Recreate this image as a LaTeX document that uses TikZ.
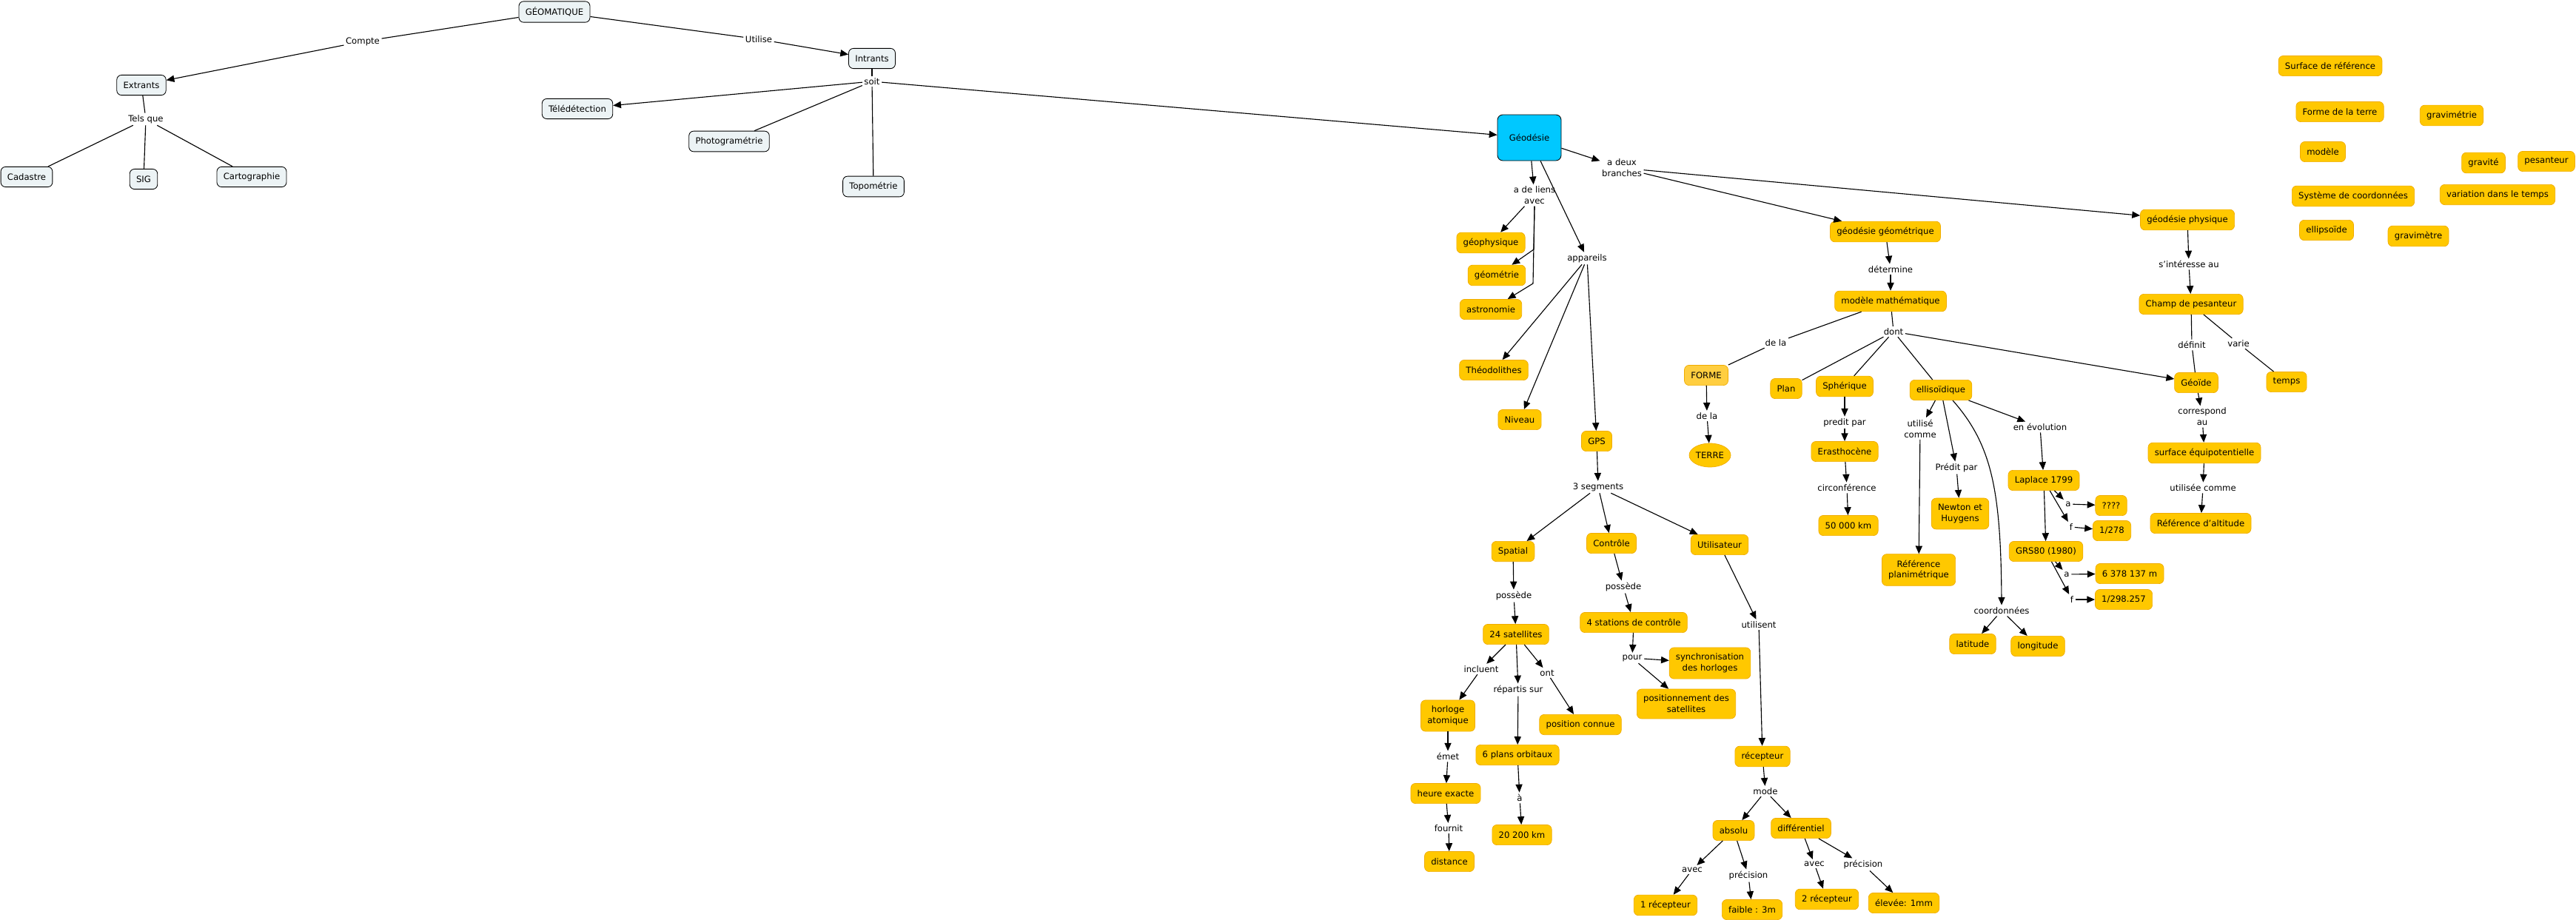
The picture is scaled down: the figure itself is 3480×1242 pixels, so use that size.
\documentclass[tikz,border=0pt]{standalone}
\usepackage{fontspec}
\setsansfont{DejaVu Sans}
\usetikzlibrary{arrows.meta,shapes.geometric}

\definecolor{conceptfill}{RGB}{255,200,0}
\definecolor{conceptline}{RGB}{240,172,0}
\definecolor{formefill}{RGB}{255,206,64}
\definecolor{sourcefill}{RGB}{236,243,245}
\definecolor{geodfill}{RGB}{0,200,255}

\begin{document}
\begin{tikzpicture}[
  x=0.25mm, y=-0.25mm,
  font=\sffamily\fontsize{8.3}{10.6}\selectfont,
  concept/.style={draw=conceptline, fill=conceptfill, rounded corners=1.6mm, line width=0.5pt,
    inner xsep=2.2mm, inner ysep=2mm, minimum height=6.8mm, align=center},
  source/.style={draw=black, fill=sourcefill, rounded corners=1.6mm, line width=0.6pt,
    inner xsep=2.2mm, inner ysep=2mm, minimum height=6.8mm},
  linkword/.style={inner sep=0.6mm, align=center},
  link/.style={line width=0.8pt, -{Triangle[length=2.7mm,width=2.3mm]}},
  plain/.style={line width=0.8pt}
]
  \useasboundingbox (0,0) rectangle (3480,1242);

  % Top of the map: geomatique, outputs and inputs
  \node[source] (geomatique) at (749,16)  {GÉOMATIQUE};
  \node[linkword] (compte)   at (490,56)  {Compte};
  \node[source] (extrants)   at (191,115) {Extrants};
  \node[linkword] (telsque)  at (197,161) {Tels que};
  \node[source] (cadastre)   at (36,239)  {Cadastre};
  \node[source] (sig)        at (194,242) {SIG};
  \node[source] (carto)      at (340,239) {Cartographie};
  \node[linkword] (utilise)  at (1025,53) {Utilise};
  \node[source] (intrants)   at (1178,79) {Intrants};
  \node[linkword] (soit)     at (1178,110) {soit};
  \node[source] (teledet)    at (780,147) {Télédétection};
  \node[source] (photogram)  at (985,191) {Photogramétrie};
  \node[source] (topom)      at (1180,252) {Topométrie};

  \draw[plain] (geomatique) -- (compte);
  \draw[link]  (compte) -- (extrants);
  \draw[plain] (extrants) -- (telsque);
  \draw[plain] (telsque) -- (cadastre);
  \draw[plain] (telsque) -- (sig);
  \draw[plain] (telsque) -- (carto);
  \draw[plain] (geomatique) -- (utilise);
  \draw[link]  (utilise) -- (intrants);
  \draw[plain] (intrants) -- (soit);
  \draw[link]  (soit) -- (teledet);
  \draw[plain] (soit) -- (photogram);
  \draw[plain] (soit) -- (topom);

  % Geodesie, the central concept
  \node[draw=black, fill=geodfill, rounded corners=1.8mm, line width=0.6pt,
        minimum width=21.5mm, minimum height=15.5mm] (geodesie) at (2066,186) {Géodésie};
  \draw[link] (soit) -- (geodesie);

  \node[linkword] (liens)     at (2073,264) {a de liens\\avec};
  \node[linkword] (deuxbr)    at (2191,227) {a deux\\branches};
  \node[linkword] (appareils) at (2144,349) {appareils};
  \node[concept] (geophys)    at (2014,328) {géophysique};
  \node[concept] (geometrie)  at (2022,372) {géométrie};
  \node[concept] (astro)      at (2014,418) {astronomie};
  \node[concept] (theodo)     at (2018,500) {Théodolithes};
  \node[concept] (niveau)     at (2053,567) {Niveau};
  \node[concept] (gps)        at (2157,596) {GPS};
  \coordinate (trunkA) at (2072,337);
  \coordinate (trunkB) at (2071,383);

  \draw[link] (geodesie) -- (liens);
  \draw[link] (liens) -- (geophys);
  \draw[link] (liens.south) -- (trunkA) -- (geometrie);
  \draw[link] (liens.south) -- (trunkB) -- (astro);
  \draw[link] (geodesie) -- (appareils);
  \draw[link] (appareils) -- (theodo);
  \draw[link] (appareils) -- (niveau);
  \draw[link] (appareils) -- (gps);
  \draw[link] (geodesie) -- (deuxbr);

  % Geometric geodesy
  \node[concept] (geogeom)   at (2547,313) {géodésie géométrique};
  \node[linkword] (determine) at (2554,364) {détermine};
  \node[concept] (modmath)   at (2554,407) {modèle mathématique};
  \node[linkword] (dont)     at (2558,448) {dont};
  \node[linkword] (delaA)    at (2399,463) {de la};
  \node[concept, fill=formefill] (forme) at (2305,507) {FORME};
  \node[linkword] (delaB)    at (2306,562) {de la};
  \node[concept, ellipse, inner sep=0pt, minimum width=14mm, minimum height=8mm] (terre) at (2310,615) {TERRE};
  \node[concept] (plan)      at (2413,525) {Plan};
  \node[concept] (spherique) at (2492,522) {Sphérique};
  \node[linkword] (preditA)  at (2492,571) {predit par};
  \node[concept] (erast)     at (2492,610) {Erasthocène};
  \node[linkword] (circonf)  at (2495,659) {circonférence};
  \node[concept] (km50)      at (2497,710) {50 000 km};
  \node[concept] (ellipso)   at (2622,527) {ellisoïdique};
  \node[linkword] (utilcomme) at (2594,579) {utilisé\\comme};
  \node[concept] (refplan)   at (2592,770) {Référence\\planimétrique};
  \node[linkword] (preditB)  at (2643,632) {Prédit par};
  \node[concept] (newton)    at (2648,694) {Newton et\\Huygens};
  \node[linkword] (evolution) at (2756,577) {en évolution};
  \node[concept] (laplace)   at (2761,649) {Laplace 1799};
  \node[linkword] (laplaceA) at (2794,681) {a};
  \node[linkword] (laplaceF) at (2798,712) {f};
  \node[concept] (qqq)       at (2852,683) {????};
  \node[concept] (r278)      at (2853,717) {1/278};
  \node[concept] (grs)       at (2764,745) {GRS80 (1980)};
  \node[linkword] (grsA)     at (2792,776) {a};
  \node[linkword] (grsF)     at (2799,810) {f};
  \node[concept] (demiaxe)   at (2877,775) {6 378 137 m};
  \node[concept] (r298)      at (2869,810) {1/298.257};
  \node[linkword] (coord)    at (2704,825) {coordonnées};
  \node[concept] (lat)       at (2665,870) {latitude};
  \node[concept] (lon)       at (2753,873) {longitude};

  \draw[link]  (deuxbr) -- (geogeom);
  \draw[link]  (geogeom) -- (determine);
  \draw[link]  (determine) -- (modmath);
  \draw[plain] (modmath) -- (dont);
  \draw[plain] (modmath) -- (delaA);
  \draw[plain] (delaA) -- (forme);
  \draw[link]  (forme) -- (delaB);
  \draw[link]  (delaB) -- (terre);
  \draw[plain] (dont) -- (plan);
  \draw[plain] (dont) -- (spherique);
  \draw[plain] (dont) -- (ellipso);
  \draw[link]  (spherique) -- (preditA);
  \draw[link]  (preditA) -- (erast);
  \draw[link]  (erast) -- (circonf);
  \draw[link]  (circonf) -- (km50);
  \draw[link]  (ellipso) -- (utilcomme);
  \draw[link]  (utilcomme) -- (refplan);
  \draw[link]  (ellipso) -- (preditB);
  \draw[link]  (preditB) -- (newton);
  \draw[link]  ([xshift=4mm]ellipso.south) .. controls (2690,600) and (2703,660) .. (coord.north);
  \draw[link]  (coord) -- (lat);
  \draw[link]  (coord) -- (lon);
  \draw[link]  (ellipso) -- (evolution);
  \draw[link]  (evolution) -- (laplace);
  \draw[link]  (laplace) -- (grs);
  \draw[link]  (laplace) -- (laplaceA);
  \draw[link]  (laplaceA) -- (qqq);
  \draw[link]  (laplace) -- (laplaceF);
  \draw[link]  (laplaceF) -- (r278);
  \draw[link]  (grs) -- (grsA);
  \draw[link]  (grsA) -- (demiaxe);
  \draw[link]  (grs) -- (grsF);
  \draw[link]  (grsF) -- (r298);

  % Physical geodesy
  \node[concept] (geophysb)   at (2955,297) {géodésie physique};
  \node[linkword] (interesse) at (2957,357) {s'intéresse au};
  \node[concept] (champ)      at (2960,411) {Champ de pesanteur};
  \node[linkword] (definit)   at (2961,466) {définit};
  \node[linkword] (varie)     at (3024,464) {varie};
  \node[concept] (geoide)     at (2967,517) {Géoïde};
  \node[concept] (temps)      at (3089,516) {temps};
  \node[linkword] (correspond) at (2975,563) {correspond\\au};
  \node[concept] (surfequi)   at (2978,612) {surface équipotentielle};
  \node[linkword] (utilisee)  at (2976,659) {utilisée comme};
  \node[concept] (refalt)     at (2973,707) {Référence d'altitude};

  \draw[link]  (deuxbr) -- (geophysb);
  \draw[link]  (geophysb) -- (interesse);
  \draw[link]  (interesse) -- (champ);
  \draw[plain] (champ) -- (definit);
  \draw[plain] (definit) -- (geoide);
  \draw[plain] (champ) -- (varie);
  \draw[plain] (varie) -- (temps);
  \draw[link]  (dont) -- (geoide);
  \draw[link]  (geoide) -- (correspond);
  \draw[link]  (correspond) -- (surfequi);
  \draw[link]  (surfequi) -- (utilisee);
  \draw[link]  (utilisee) -- (refalt);

  % Loose concepts, top right
  \node[concept] (surfref)     at (3148,89)  {Surface de référence};
  \node[concept] (formeterre)  at (3161,151) {Forme de la terre};
  \node[concept] (gravimetrie) at (3312,156) {gravimétrie};
  \node[concept] (modele)      at (3138,205) {modèle};
  \node[concept] (gravite)     at (3355,220) {gravité};
  \node[concept] (pesanteur)   at (3440,218) {pesanteur};
  \node[concept] (syscoord)    at (3179,265) {Système de coordonnées};
  \node[concept] (variation)   at (3374,263) {variation dans le temps};
  \node[concept] (ellipsoide)  at (3143,311) {ellipsoïde};
  \node[concept] (gravimetre)  at (3267,319) {gravimètre};

  % GPS and its three segments
  \node[linkword] (segments)   at (2159,658) {3 segments};
  \node[concept] (spatial)     at (2044,745) {Spatial};
  \node[concept] (controle)    at (2177,734) {Contrôle};
  \node[concept] (utilisateur) at (2323,736) {Utilisateur};
  \node[linkword] (possedeS)   at (2045,805) {possède};
  \node[concept] (sat24)       at (2048,857) {24 satellites};
  \node[linkword] (incluent)   at (2001,904) {incluent};
  \node[linkword] (repartis)   at (2051,932) {répartis sur};
  \node[linkword] (ont)        at (2090,909) {ont};
  \node[concept] (horloge)     at (1956,967) {horloge\\atomique};
  \node[concept] (posconnue)   at (2135,979) {position connue};
  \node[concept] (plans6)      at (2050,1020) {6 plans orbitaux};
  \node[linkword] (emet)       at (1956,1022) {émet};
  \node[concept] (heure)       at (1953,1072) {heure exacte};
  \node[linkword] (fournit)    at (1957,1119) {fournit};
  \node[concept] (distance)    at (1958,1164) {distance};
  \node[linkword] (alabel)     at (2053,1078) {à};
  \node[concept] (km20200)     at (2056,1128) {20 200 km};
  \node[linkword] (possedeC)   at (2193,793) {possède};
  \node[concept] (stations4)   at (2207,841) {4 stations de contrôle};
  \node[linkword] (pour)       at (2205,889) {pour};
  \node[concept] (synchro)     at (2310,896) {synchronisation\\des horloges};
  \node[concept] (positionnement) at (2278,951) {positionnement des\\satellites};
  \node[linkword] (utilisent)  at (2376,844) {utilisent};
  \node[concept] (recepteur)   at (2381,1022) {récepteur};
  \node[linkword] (mode)       at (2385,1069) {mode};
  \node[concept] (absolu)      at (2342,1122) {absolu};
  \node[concept] (differentiel) at (2433,1119) {différentiel};
  \node[linkword] (avecA)      at (2286,1175) {avec};
  \node[linkword] (precA)      at (2362,1183) {précision};
  \node[concept] (recep1)      at (2250,1223) {1 récepteur};
  \node[concept] (faible)      at (2367,1229) {faible : 3m};
  \node[linkword] (avecD)      at (2451,1167) {avec};
  \node[linkword] (precD)      at (2517,1168) {précision};
  \node[concept] (recep2)      at (2468,1215) {2 récepteur};
  \node[concept] (elevee)      at (2572,1220) {élevée: 1mm};

  \draw[link] (gps) -- (segments);
  \draw[link] (segments) -- (spatial);
  \draw[link] (segments) -- (controle);
  \draw[link] (segments) -- (utilisateur);
  \draw[link] (spatial) -- (possedeS);
  \draw[link] (possedeS) -- (sat24);
  \draw[link] (sat24) -- (incluent);
  \draw[link] (incluent) -- (horloge);
  \draw[link] (sat24) -- (repartis);
  \draw[link] (repartis) -- (plans6);
  \draw[link] (sat24) -- (ont);
  \draw[link] (ont) -- (posconnue);
  \draw[link] (horloge) -- (emet);
  \draw[link] (emet) -- (heure);
  \draw[link] (heure) -- (fournit);
  \draw[link] (fournit) -- (distance);
  \draw[link] (plans6) -- (alabel);
  \draw[link] (alabel) -- (km20200);
  \draw[link] (controle) -- (possedeC);
  \draw[link] (possedeC) -- (stations4);
  \draw[link] (stations4) -- (pour);
  \draw[link] (pour) -- (synchro);
  \draw[link] (pour) -- (positionnement);
  \draw[link] (utilisateur) -- (utilisent);
  \draw[link] (utilisent) -- (recepteur);
  \draw[link] (recepteur) -- (mode);
  \draw[link] (mode) -- (absolu);
  \draw[link] (mode) -- (differentiel);
  \draw[link] (absolu) -- (avecA);
  \draw[link] (avecA) -- (recep1);
  \draw[link] (absolu) -- (precA);
  \draw[link] (precA) -- (faible);
  \draw[link] (differentiel) -- (avecD);
  \draw[link] (avecD) -- (recep2);
  \draw[link] (differentiel) -- (precD);
  \draw[link] (precD) -- (elevee);

\end{tikzpicture}
\end{document}
